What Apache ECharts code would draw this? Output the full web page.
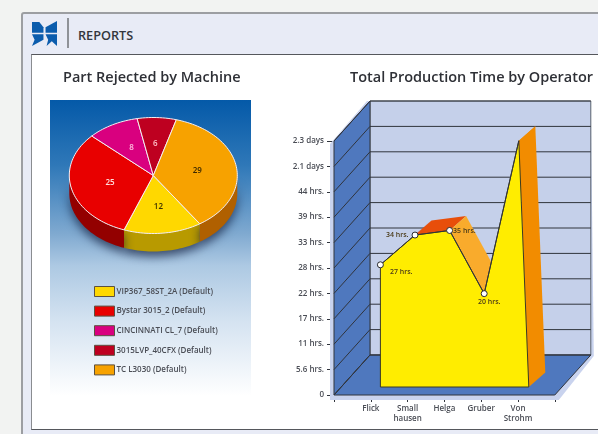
<!DOCTYPE html>
<html>
<head>
<meta charset="utf-8">
<title>Reports</title>
<script src="https://cdn.jsdelivr.net/npm/echarts@6/dist/echarts.min.js"></script>
<style>
    html, body { margin: 0; padding: 0; width: 598px; height: 434px; overflow: hidden; background: #f2f3f2; font-family: "Open Sans", sans-serif; }
    #panel { position: absolute; left: 21px; top: 12px; width: 590px; height: 440px; box-sizing: border-box; background: #e8ebf6; border: 2px solid #9c9ea2; border-radius: 3px; }
    #inner { position: absolute; left: 31px; top: 54px; width: 580px; height: 376px; box-sizing: border-box; background: #fff; border: 1px solid #55575c; border-top-width: 1.5px; border-left-color: #8a8c90; }
    #logo { position: absolute; left: 32px; top: 21px; }
    #sep { position: absolute; left: 66.5px; top: 18px; width: 2px; height: 30px; background: #8f9298; }
    #heading { position: absolute; left: 78px; top: 25px; font-size: 12.7px; line-height: 21px; font-weight: 600; color: #33363d; }
    #backdrop { position: absolute; left: 50px; top: 100px; width: 201px; height: 296px; background: linear-gradient(to bottom, #0459a8 0%, #2f78b8 22%, #7fa9d0 45%, #adc9e3 56%, #d5e3f1 75%, #ffffff 100%); }
    #chart { position: absolute; left: 0; top: 0; width: 598px; height: 434px; }
</style>
</head>
<body>
<div id="panel"></div>
<div id="inner"></div>
<svg id="logo" width="25" height="25" viewBox="0 0 24 24" fill="#0b5cad">
    <polygon points="0,1 7,1 11,6 11,11.3 0,11.3"/>
    <polygon points="13,11.3 13,6 24,0 24,11.3"/>
    <polygon points="0,12.8 11,12.8 11,18 0,24 2.5,18"/>
    <polygon points="13,12.8 24,12.8 24,24 19,19.5 14,24 15.5,18"/>
</svg>
<div id="sep"></div>
<div id="heading">REPORTS</div>
<div id="backdrop"></div>
<div id="chart"></div>
<script>
// pie values
const machines = [
    'VIP367_58ST_2A (Default)',
    'Bystar 3015_2 (Default)',
    'CINCINNATI CL_7 (Default)',
    '3015LVP_40CFX (Default)',
    'TC L3030 (Default)',
];
const rejected = [12, 25, 8, 6, 29];
const pieColors = ['#ffd800', '#e80000', '#d9007f', '#be0020', '#f7a200'];
const pieSideColors = ['#b89a00', '#930000', '#8a0050', '#7a0014', '#b06000'];
const pieLabelColors = ['#3a3000', '#ffe0e0', '#ffc0e0', '#ffc0c8', '#3a2800'];

// production time values, in hours
const operators = ['Flick', 'Small\nhausen', 'Helga', 'Gruber', 'Von\nStrohm'];
const hours = [26.7, 33.2, 34.2, 20.4, 53.8];
const hourLabels = ['27 hrs.', '34 hrs.', '35 hrs.', '20 hrs.', ''];
const hourLabelPlace = ['right', 'left', 'right', 'bottom', 'top'];
const yTicks = [0, 5.55, 11.1, 16.65, 22.2, 27.75, 33.3, 38.85, 44.4, 49.95, 55.5];
const yTickLabels = ['0', '5.6 hrs.', '11 hrs.', '17 hrs.', '22 hrs.', '28 hrs.', '33 hrs.', '39 hrs.', '44 hrs.', '2.1 days', '2.3 days'];
const faceColors = ['#8c1f45', '#e84e0a', '#f9ab2c', '#f28c00'];

const FONT = '"Open Sans", sans-serif';
const PIE = { cx: 153.3, cy: 175.5, rx: 84, ry: 58, depth: 18, start: 56.4 };
const WALL = { dx: 36, dy: -40 };
const SOLID = { dx: 16.5, dy: -14.5, baseStretch: 10 };
const LINE = '#30343c';

const total = rejected.reduce((a, b) => a + b, 0);
const sliceAngles = i => {
    const before = rejected.slice(0, i).reduce((a, b) => a + b, 0);
    return [PIE.start + (before / total) * 360, PIE.start + ((before + rejected[i]) / total) * 360];
};
const rim = (deg, down = 0) => {
    const r = (deg * Math.PI) / 180;
    return [PIE.cx + PIE.rx * Math.cos(r), PIE.cy + PIE.ry * Math.sin(r) + down];
};
const arc = (from, to, down = 0) => {
    const pts = [];
    const steps = Math.max(2, Math.ceil(Math.abs(to - from) / 2));
    for (let k = 0; k <= steps; k++) pts.push(rim(from + ((to - from) * k) / steps, down));
    return pts;
};

// the visible rim of the pie, only the part of each slice below the middle line
const renderPieSide = (params, api) => {
    const [a, b] = sliceAngles(params.dataIndex);
    const from = Math.max(a, 0);
    const to = Math.min(b, 180);
    const wrapFrom = Math.max(a, 360);
    const wrapTo = Math.min(b, 540);
    const lo = from < to ? from : wrapFrom;
    const hi = from < to ? to : wrapTo;
    if (lo >= hi) return null;
    const top = arc(lo, hi);
    const bottom = arc(hi, lo, PIE.depth);
    return {
        type: 'polygon',
        shape: { points: top.concat(bottom) },
        style: {
            fill: pieSideColors[params.dataIndex],
            shadowBlur: 10,
            shadowOffsetY: 5,
            shadowColor: 'rgba(10,20,50,0.65)',
        },
    };
};

const renderPieTop = i => () => {
    const [a, b] = sliceAngles(i);
    const mid = rim((a + b) / 2);
    return {
        type: 'group',
        children: [
            {
                type: 'polygon',
                shape: { points: [[PIE.cx, PIE.cy]].concat(arc(a, b)) },
                style: { fill: pieColors[i], stroke: '#f6eef0', lineWidth: 1 },
            },
            {
                type: 'text',
                style: {
                    text: String(rejected[i]),
                    x: PIE.cx + (mid[0] - PIE.cx) * 0.53,
                    y: PIE.cy + (mid[1] - PIE.cy) * 0.55,
                    align: 'center',
                    verticalAlign: 'middle',
                    fill: pieLabelColors[i],
                    font: '600 8px ' + FONT,
                },
            },
        ],
    };
};

const shift = (p, d) => [p[0] + d.dx, p[1] + d.dy];

// back wall, side wall and floor, built from the front axes
const renderWalls = (params, api) => {
    const value = yTicks[params.dataIndex];
    const left = api.coord([0, value]);
    const right = api.coord([operators.length + 1, value]);
    const rungs = [
        { type: 'line', shape: { x1: left[0], y1: left[1], x2: left[0] + WALL.dx, y2: left[1] + WALL.dy }, style: { stroke: LINE, lineWidth: 1 } },
        { type: 'line', shape: { x1: left[0] + WALL.dx, y1: left[1] + WALL.dy, x2: right[0] + WALL.dx, y2: right[1] + WALL.dy }, style: { stroke: LINE, lineWidth: 1 } },
    ];
    if (params.dataIndex > 0) return { type: 'group', children: rungs };
    const top = yTicks[yTicks.length - 1];
    const fl = left;
    const fr = right;
    const tl = api.coord([0, top]);
    const tr = api.coord([operators.length + 1, top]);
    return {
        type: 'group',
        children: [
            {
                type: 'polygon',
                shape: { points: [[tl[0] - 4, tl[1] + 3], [tl[0] + WALL.dx - 3, tl[1] + WALL.dy], shift(tr, WALL), [fr[0] + WALL.dx + 3, fr[1] + WALL.dy + 1], [fr[0] + 4, fr[1] + 5], [fl[0] - 4, fl[1] + 5]] },
                style: { fill: '#c9d3ee' },
            },
            {
                type: 'polygon',
                shape: { points: [shift(tl, WALL), shift(tr, WALL), shift(fr, WALL), shift(fl, WALL)] },
                style: { fill: '#c5d0ea', stroke: '#5d6470', lineWidth: 1 },
            },
            {
                type: 'polygon',
                shape: { points: [tl, shift(tl, WALL), shift(fl, WALL), fl] },
                style: { fill: '#4f78be', stroke: LINE, lineWidth: 1 },
            },
            {
                type: 'polygon',
                shape: { points: [fl, shift(fl, WALL), shift(fr, WALL), fr] },
                style: { fill: '#4f78be', stroke: LINE, lineWidth: 1 },
            },
        ].concat(rungs),
    };
};

// the solid area: roof faces first, then the end face, then the yellow front
const renderSolid = (params, api) => {
    const i = params.dataIndex;
    const p = api.coord([i, hours[i]]);
    if (i < hours.length - 1) {
        const q = api.coord([i + 1, hours[i + 1]]);
        return {
            type: 'polygon',
            shape: { points: [p, q, shift(q, SOLID), shift(p, SOLID)] },
            style: { fill: faceColors[i] },
        };
    }
    const baseLeft = api.coord([0, 0]);
    const baseRight = api.coord([i, 0]);
    baseRight[0] += SOLID.baseStretch;
    const front = [baseLeft].concat(hours.map((h, k) => api.coord([k, h])), [baseRight]);
    return {
        type: 'group',
        children: [
            {
                type: 'polygon',
                shape: { points: [p, shift(p, SOLID), shift(baseRight, SOLID), baseRight] },
                style: { fill: faceColors[faceColors.length - 1] },
            },
            {
                type: 'polygon',
                shape: { points: front },
                style: { fill: '#ffed00', stroke: '#3c3a20', lineWidth: 1 },
            },
        ],
    };
};

const chart = echarts.init(document.getElementById('chart'), null, { renderer: 'canvas' });

chart.setOption({
    animation: false,
    backgroundColor: 'transparent',
    title: [
        { text: 'Part Rejected by Machine', left: 58, top: 65, textStyle: { fontFamily: FONT, fontSize: 14.5, fontWeight: 600, color: '#2e3036' } },
        { text: 'Total Production Time by Operator', left: 345, top: 65, textStyle: { fontFamily: FONT, fontSize: 14.5, fontWeight: 600, color: '#2e3036' } },
    ],
    legend: {
        orient: 'vertical',
        left: 89,
        top: 281,
        itemWidth: 20,
        itemHeight: 10,
        itemGap: 8.6,
        icon: 'rect',
        selectedMode: false,
        textStyle: { fontFamily: FONT, fontSize: 8, fontWeight: 600, color: '#4a4d55', padding: [0, 0, 0, -3] },
        data: machines.map((name, i) => ({
            name,
            itemStyle: { color: pieColors[i], borderColor: '#5c5140', borderWidth: 1 },
        })),
    },
    grid: [
        { left: 334, top: 141, width: 220.8, height: 254 },
        { left: 380.4, top: 133, width: 138.4, height: 254 },
    ],
    xAxis: [
        {
            type: 'category',
            gridIndex: 0,
            boundaryGap: false,
            data: [''].concat(operators, ['']),
            axisLine: { lineStyle: { color: LINE, width: 1 } },
            axisTick: { length: 7, lineStyle: { color: LINE } },
            axisLabel: { interval: 0, margin: 9, fontFamily: FONT, fontSize: 8, fontWeight: 600, lineHeight: 9.5, color: '#4a4d55' },
            splitLine: { show: false },
        },
        { type: 'category', gridIndex: 1, boundaryGap: false, show: false, data: operators },
    ],
    yAxis: [
        {
            type: 'value',
            gridIndex: 0,
            min: 0,
            max: 55.5,
            interval: 5.55,
            axisLine: { show: true, lineStyle: { color: LINE, width: 1 } },
            axisTick: { show: true, length: 7, lineStyle: { color: LINE } },
            axisLabel: {
                margin: 10,
                fontFamily: FONT,
                fontSize: 8,
                fontWeight: 600,
                color: '#4a4d55',
                formatter: (value, index) => yTickLabels[index],
            },
            splitLine: { show: false },
        },
        { type: 'value', gridIndex: 1, min: 0, max: 55.5, show: false, splitLine: { show: false } },
    ],
    series: [
        {
            type: 'custom',
            name: 'pie side',
            coordinateSystem: 'none',
            z: 2,
            silent: true,
            data: rejected,
            renderItem: renderPieSide,
        },
        ...machines.map((name, i) => ({
            type: 'custom',
            name,
            coordinateSystem: 'none',
            z: 3,
            color: pieColors[i],
            data: [rejected[i]],
            renderItem: renderPieTop(i),
        })),
        {
            type: 'custom',
            name: 'walls',
            xAxisIndex: 0,
            yAxisIndex: 0,
            z: 2,
            silent: true,
            data: yTicks,
            renderItem: renderWalls,
        },
        {
            type: 'custom',
            name: 'solid',
            xAxisIndex: 1,
            yAxisIndex: 1,
            z: 3,
            silent: true,
            data: hours,
            renderItem: renderSolid,
        },
        {
            type: 'line',
            name: 'hours',
            xAxisIndex: 1,
            yAxisIndex: 1,
            z: 4,
            symbol: 'circle',
            symbolSize: 6,
            lineStyle: { color: LINE, width: 1 },
            itemStyle: { color: '#fff', borderColor: '#2a2c30', borderWidth: 1 },
            data: hours.map((value, i) => ({
                value,
                symbol: hourLabels[i] ? 'circle' : 'none',
                label: {
                    show: !!hourLabels[i],
                    position: hourLabelPlace[i],
                    formatter: hourLabels[i],
                    distance: i === 0 ? 5 : 3,
                    offset: [[1, 7], [0, 0], [-3, 1], [5, -2], [0, 0]][i],
                    fontFamily: FONT,
                    fontSize: 7,
                    fontWeight: 600,
                    color: '#4a3a18',
                },
            })),
        },
    ],
});

window.addEventListener('resize', () => chart.resize());
</script>
</body>
</html>
